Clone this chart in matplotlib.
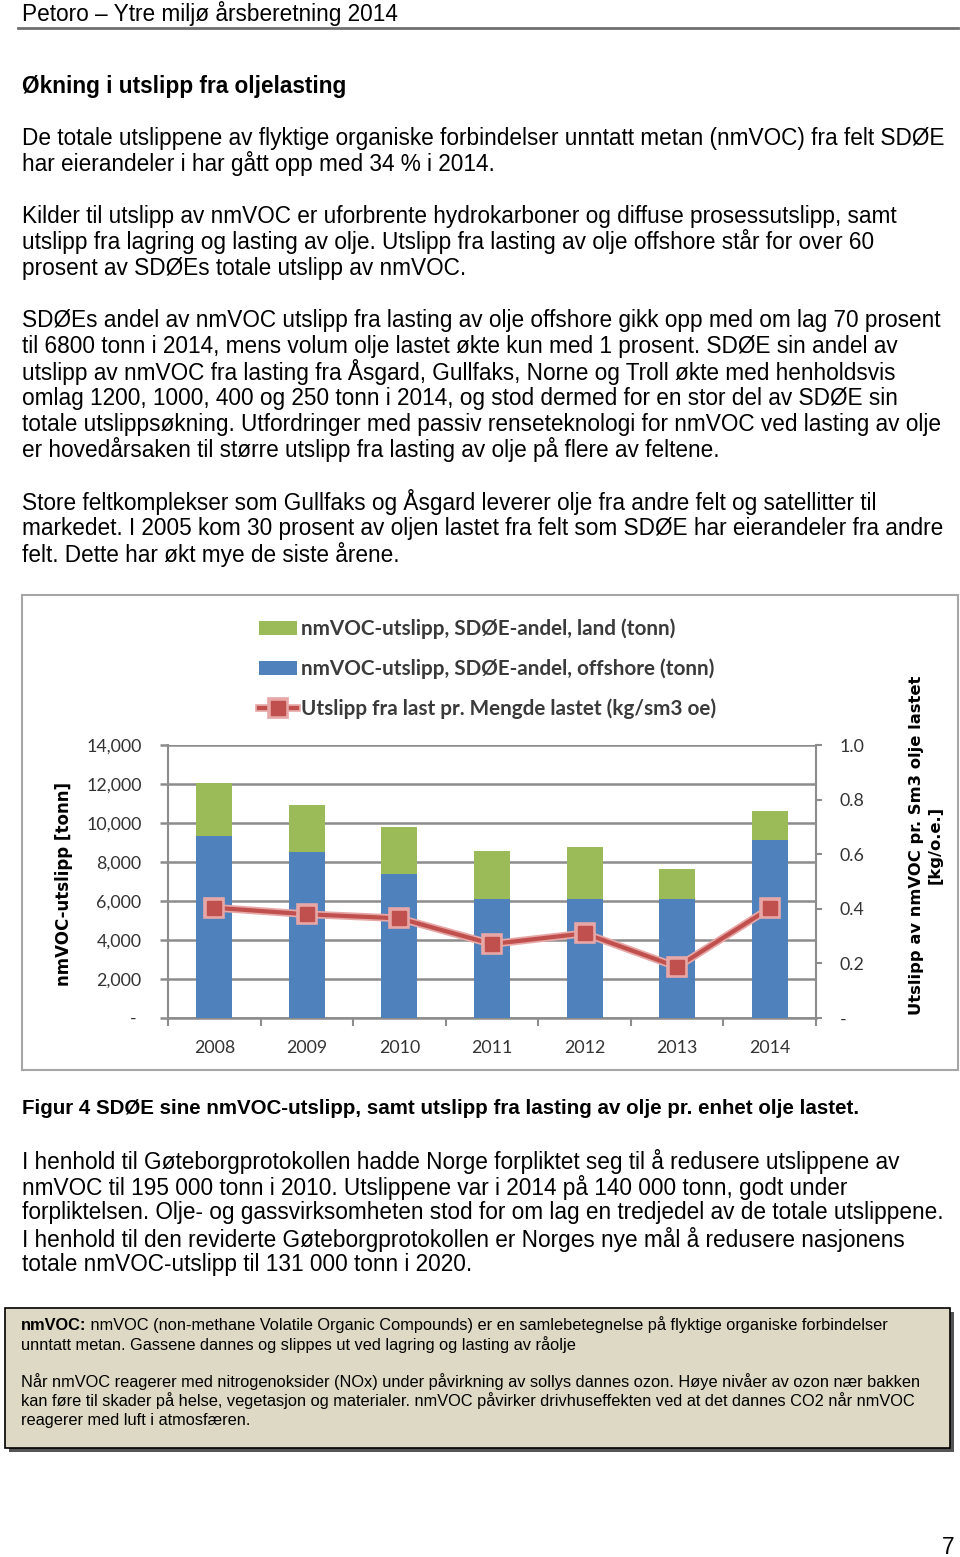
import numpy as np
import matplotlib
matplotlib.use('Agg')
import matplotlib.pyplot as plt
import matplotlib.patches as mpatches
import matplotlib.patheffects as pe
from matplotlib.ticker import FixedLocator, FuncFormatter

# chart data
years = ['2008', '2009', '2010', '2011', '2012', '2013', '2014']
offshore = [9350, 8530, 7410, 6080, 6100, 6080, 9130]
land = [2700, 2380, 2370, 2500, 2680, 1540, 1500]
ratio = [0.404, 0.380, 0.365, 0.271, 0.310, 0.187, 0.402]

lbl_land = 'nmVOC-utslipp, SDØE-andel, land (tonn)'
lbl_off = 'nmVOC-utslipp, SDØE-andel, offshore (tonn)'
lbl_ratio = 'Utslipp fra last pr. Mengde lastet (kg/sm3 oe)'

header = 'Petoro – Ytre miljø årsberetning 2014'
heading = 'Økning i utslipp fra oljelasting'
para1 = [
    (138, 'De totale utslippene av flyktige organiske forbindelser unntatt metan (nmVOC) fra felt SDØE'),
    (164, 'har eierandeler i har gått opp med 34 % i 2014.'),
    (216, 'Kilder til utslipp av nmVOC er uforbrente hydrokarboner og diffuse prosessutslipp, samt'),
    (242, 'utslipp fra lagring og lasting av olje. Utslipp fra lasting av olje offshore står for over 60'),
    (268, 'prosent av SDØEs totale utslipp av nmVOC.'),
    (320, 'SDØEs andel av nmVOC utslipp fra lasting av olje offshore gikk opp med om lag 70 prosent'),
    (346, 'til 6800 tonn i 2014, mens volum olje lastet økte kun med 1 prosent. SDØE sin andel av'),
    (372, 'utslipp av nmVOC fra lasting fra Åsgard, Gullfaks, Norne og Troll økte med henholdsvis'),
    (398, 'omlag 1200, 1000, 400 og 250 tonn i 2014, og stod dermed for en stor del av SDØE sin'),
    (424, 'totale utslippsøkning. Utfordringer med passiv renseteknologi for nmVOC ved lasting av olje'),
    (450, 'er hovedårsaken til større utslipp fra lasting av olje på flere av feltene.'),
    (502, 'Store feltkomplekser som Gullfaks og Åsgard leverer olje fra andre felt og satellitter til'),
    (528, 'markedet. I 2005 kom 30 prosent av oljen lastet fra felt som SDØE har eierandeler fra andre'),
    (554, 'felt. Dette har økt mye de siste årene.'),
]
caption = 'Figur 4 SDØE sine nmVOC-utslipp, samt utslipp fra lasting av olje pr. enhet olje lastet.'
para2 = [
    (1161, 'I henhold til Gøteborgprotokollen hadde Norge forpliktet seg til å redusere utslippene av'),
    (1187, 'nmVOC til 195 000 tonn i 2010. Utslippene var i 2014 på 140 000 tonn, godt under'),
    (1213, 'forpliktelsen. Olje- og gassvirksomheten stod for om lag en tredjedel av de totale utslippene.'),
    (1239, 'I henhold til den reviderte Gøteborgprotokollen er Norges nye mål å redusere nasjonens'),
    (1265, 'totale nmVOC-utslipp til 131 000 tonn i 2020.'),
]
box_bold = 'nmVOC:'
box_lines = [
    (1325, ' nmVOC (non-methane Volatile Organic Compounds) er en samlebetegnelse på flyktige organiske forbindelser'),
    (1345, 'unntatt metan. Gassene dannes og slippes ut ved lagring og lasting av råolje'),
    (1382, 'Når nmVOC reagerer med nitrogenoksider (NOx) under påvirkning av sollys dannes ozon. Høye nivåer av ozon nær bakken'),
    (1401, 'kan føre til skader på helse, vegetasjon og materialer. nmVOC påvirker drivhuseffekten ved at det dannes CO2 når nmVOC'),
    (1420, 'reagerer med luft i atmosfæren.'),
]

W, H = 960, 1557
fig = plt.figure(figsize=(W / 100, H / 100), dpi=100)
fig.patch.set_facecolor('white')


def fx(x):
    return x / W


def fy(y):
    return 1 - y / H


body = dict(family='Liberation Sans', fontsize=16.3, va='center', ha='left')

fig.text(fx(22), fy(13), header, **body)
fig.add_artist(plt.Line2D([fx(18), fx(958)], [fy(28), fy(28)], color='#707070', lw=2))
fig.text(fx(22), fy(86), heading, fontweight='bold', **body)
for y, s in para1 + para2:
    fig.text(fx(22), fy(y), s, **body)
fig.text(fx(22), fy(1109), caption, family='Liberation Sans', fontsize=14.8,
         fontweight='bold', va='center')
fig.text(fx(942), fy(1547), '7', family='Liberation Sans', fontsize=16.5, va='center')

# info box with shadow
fig.add_artist(mpatches.Rectangle((fx(9), fy(1452)), fx(945), (1452 - 1312) / H,
                                  transform=fig.transFigure, facecolor='#555555', edgecolor='none'))
fig.add_artist(mpatches.Rectangle((fx(5), fy(1448)), fx(945), (1448 - 1308) / H,
                                  transform=fig.transFigure, facecolor='#ddd9c4',
                                  edgecolor='black', lw=1.2))
small = dict(family='Liberation Sans', fontsize=11.8, va='center', ha='left')
tb = fig.text(fx(21), fy(box_lines[0][0]), box_bold, fontweight='bold', **small)
r = fig.canvas.get_renderer()
bx = tb.get_window_extent(r).x1
fig.text(bx / W, fy(box_lines[0][0]), box_lines[0][1], **small)
for y, s in box_lines[1:]:
    fig.text(fx(21), fy(y), s, **small)

# chart frame
fig.add_artist(mpatches.Rectangle((fx(22), fy(1070)), fx(936), (1070 - 595) / H,
                                  transform=fig.transFigure, facecolor='white',
                                  edgecolor='#a6a6a6', lw=1.5, zorder=0))

green, blue, red = '#9bbb59', '#4f81bd', '#c0504d'
gridc = '#8c8c8c'
cfont = 'Lato'

ax = fig.add_axes([fx(168), fy(1018), (816 - 168) / W, (1018 - 745) / H])
ax.set_facecolor('none')
x = np.arange(len(years))
b1 = ax.bar(x, offshore, width=0.39, color=blue, zorder=3, label=lbl_off)
b2 = ax.bar(x, land, width=0.39, bottom=offshore, color=green, zorder=3, label=lbl_land)
ax.set_xlim(-0.5, len(years) - 0.5)
ax.set_ylim(0, 14000)
ax.set_yticks(np.arange(0, 14001, 2000))
ax.yaxis.set_major_formatter(FuncFormatter(lambda v, p: '- ' if v == 0 else f'{int(v):,}'))
ax.grid(axis='y', color=gridc, lw=1.8, zorder=0)
ax.set_xticks(x)
ax.set_xticklabels(years)
ax.xaxis.set_minor_locator(FixedLocator(np.arange(-0.5, len(years), 1.0)))
ax.tick_params(axis='x', which='major', length=0, pad=16, labelsize=12.8, labelcolor='#333333')
ax.tick_params(axis='x', which='minor', length=6, width=1.5, color=gridc)
ax.tick_params(axis='y', length=6, width=1.8, color=gridc, pad=13, labelsize=12.8,
               labelcolor='#333333')
for t in ax.get_xticklabels() + ax.get_yticklabels():
    t.set_family(cfont)
for s in ['top', 'right']:
    ax.spines[s].set_visible(False)
ax.spines['left'].set_color(gridc)
ax.spines['left'].set_linewidth(1.5)
ax.spines['bottom'].set_color(gridc)
ax.spines['bottom'].set_linewidth(1.8)

ax2 = ax.twinx()
ln, = ax2.plot(x, ratio, color=red, lw=3, marker='s', markersize=10, zorder=5,
               markeredgecolor=red, label=lbl_ratio,
               path_effects=[pe.Stroke(linewidth=5.5, foreground='#e6a7a6'), pe.Normal()])
ax2.set_ylim(0, 1.0)
ax2.set_yticks(np.arange(0, 1.01, 0.2))
ax2.yaxis.set_major_formatter(FuncFormatter(lambda v, p: '-' if v == 0 else f'{v:.1f}'))
ax2.tick_params(axis='y', length=4, width=1.5, color=gridc, pad=13, labelsize=12.8,
                labelcolor='#333333')
for t in ax2.get_yticklabels():
    t.set_family(cfont)
for s in ['top', 'left', 'bottom']:
    ax2.spines[s].set_visible(False)
ax2.spines['right'].set_color(gridc)
ax2.spines['right'].set_linewidth(1.5)

fig.legend([b2, b1, ln], [lbl_land, lbl_off, lbl_ratio], loc='upper left',
           bbox_to_anchor=(fx(240), fy(600)), frameon=False,
           prop=dict(family=cfont, weight='bold', size=14.9),
           handlelength=1.85, handleheight=0.7, handletextpad=0.2, labelspacing=0.93,
           labelcolor='#3a3a3a')

fig.text(fx(64), fy(884), 'nmVOC-utslipp [tonn]', rotation=90, ha='center', va='center',
         family='DejaVu Sans', fontweight='bold', fontsize=12.0)
fig.text(fx(926), fy(845), 'Utslipp av nmVOC pr. Sm3 olje lastet\n[kg/o.e.]', rotation=90,
         ha='center', va='center', multialignment='center', linespacing=1.3,
         family='DejaVu Sans', fontweight='bold', fontsize=11.8)

fig.savefig('out.png', dpi=100)
